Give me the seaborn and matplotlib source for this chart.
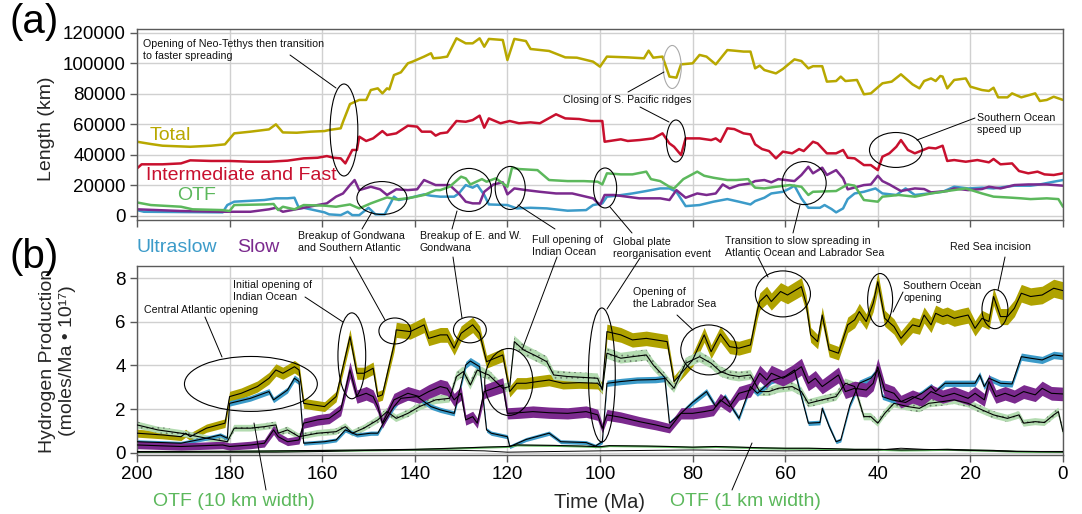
import numpy as np
import matplotlib.pyplot as plt
import seaborn as sns
from matplotlib.patches import Ellipse

# ---- panel (a): ridge length (km) as (time Ma, value) pairs ----
total_len = [(200, 48500), (197, 47000), (194.5, 45900), (188.5, 45200), (184, 45900), (181, 46800),
             (179, 54000), (175.5, 55100), (171.5, 56600), (170, 59900), (168.5, 54600), (165.5, 54400),
             (162.5, 55100), (159.5, 55500), (158.5, 56200), (156, 57300), (155.5, 61600), (154, 73200),
             (152, 75900), (150.5, 75900), (149.5, 82400), (148, 83500), (147, 80200), (146, 83500),
             (145.5, 82800), (144.5, 92200), (143, 94000), (141.5, 99900), (140.5, 101000), (138, 104300),
             (136.5, 106500), (136, 103200), (134.5, 103600), (133, 104300), (131, 116300), (129, 113000),
             (127.5, 113000), (126, 116300), (125, 110800), (124, 115900), (121, 115200), (120, 102100),
             (118.5, 115900), (116, 114500), (115, 109300), (111, 108000), (107.5, 103800), (105, 103600),
             (101.5, 101000), (100, 97700), (98.5, 104300), (94, 103800), (90.5, 103200), (89.5, 108200),
             (88.5, 103600), (86.5, 104300), (85, 91200), (83.5, 90500), (82.5, 99200), (80, 99900),
             (78.5, 105400), (77, 104300), (75, 99200), (72.5, 108600), (71, 108200), (69, 107600),
             (67.5, 107600), (66.5, 96600), (65.5, 98400), (64.5, 95500), (62, 93300), (60.5, 96200),
             (58, 102500), (56.5, 101400), (55, 96600), (54, 98000), (52, 98000), (51, 87900), (49, 88300),
             (48, 91200), (47, 88300), (44.5, 89000), (43, 79600), (41.5, 80200), (39, 86800), (37, 87900),
             (35, 92700), (32.5, 86100), (31, 83500), (30, 88300), (28.5, 90000), (27.5, 88300),
             (26.5, 91600), (26, 91200), (25, 83500), (23.5, 89000), (21, 90000), (20, 84600),
             (17.5, 82400), (16, 81800), (15, 83900), (14, 77600), (12, 77600), (11, 80200), (9, 77600),
             (6, 80200), (5, 75200), (3.5, 75900), (2, 78000), (0, 75900)]
fast_len = [(200, 31000), (199, 33700), (194.5, 33700), (190.5, 34300), (188.5, 36300), (184, 35900),
            (180, 35900), (175.5, 35400), (171.5, 35400), (167.5, 36100), (164, 37600), (161, 38000),
            (159, 39100), (157.5, 38000), (156, 37600), (155, 34300), (153.5, 43100), (152.5, 43100),
            (152, 51800), (150.5, 49000), (149, 50700), (147, 55500), (146, 52900), (144, 54000),
            (141.5, 59000), (139.5, 58400), (138.5, 55100), (136.5, 55100), (135.5, 52500), (134.5, 54000),
            (133, 54600), (131, 62100), (129, 61600), (127.5, 62700), (126, 65600), (125, 57700),
            (124, 63800), (121.5, 60600), (119.5, 62100), (117.5, 60600), (115, 61200), (113, 60600),
            (109.5, 66500), (107.5, 63800), (104.5, 63400), (102, 62100), (99.5, 62100), (99, 48500),
            (95.5, 50100), (94, 49000), (91.5, 49600), (88.5, 50700), (86.5, 54000), (85, 47400),
            (84, 45200), (82.5, 39800), (81.5, 50700), (78.5, 50700), (76, 49600), (75, 50700),
            (74, 48500), (72.5, 57300), (71, 56800), (69, 54000), (67.5, 53300), (66.5, 46800),
            (65, 43700), (63.5, 42400), (62, 37600), (60.5, 42000), (58.5, 40900), (57, 43700),
            (56, 42400), (54, 48500), (53, 47400), (51, 40900), (49, 40900), (47.5, 43100), (46.5, 38000),
            (45, 37600), (43, 33200), (41.5, 33200), (40, 29900), (39, 38700), (37.5, 40900), (36, 45200),
            (35, 49600), (33.5, 43100), (32, 40900), (29, 44600), (27.5, 44100), (26, 45900), (25, 35900),
            (23.5, 36500), (21, 35400), (18.5, 36500), (16, 35000), (15, 37200), (13.5, 33700),
            (11, 34300), (9.5, 29300), (7.5, 27800), (5.5, 28900), (4, 27100), (2, 26700), (0, 27800)]
otf_len = [(200, 8700), (197, 7000), (190.5, 5900), (188, 4200), (181.5, 3700), (180, 3100), (179, 7000),
           (172.5, 7400), (170.5, 7700), (169.5, 3700), (168.5, 5900), (166, 4200), (164, 7000),
           (159.5, 6600), (157, 5900), (154, 7400), (152, 4800), (149.5, 8100), (146, 12000), (144, 10700),
           (141.5, 11400), (138, 13600), (135.5, 16800), (134.5, 16800), (132.5, 19000), (130, 25600),
           (129, 24500), (128, 20500), (125.5, 24000), (124.5, 22300), (122.5, 24500), (120, 19000),
           (119, 31500), (117.5, 30600), (113.5, 29900), (111, 23400), (107, 22700), (103.5, 22700),
           (100.5, 22300), (99.5, 20500), (98.5, 27800), (95.5, 27100), (93, 27100), (90, 28900),
           (89, 24000), (87, 22700), (85, 19000), (84, 17900), (82, 24000), (79, 28900), (77.5, 26200),
           (75.5, 24900), (72.5, 23400), (70.5, 23400), (68, 24000), (67, 20000), (66.5, 18400),
           (64.5, 17900), (62, 19000), (59, 20100), (56.5, 19000), (55, 13600), (54, 15700), (49, 16200),
           (46.5, 20500), (45, 19700), (43, 10300), (40, 9200), (39, 12500), (35.5, 13600), (32, 12500),
           (28.5, 14600), (25, 16200), (21, 17900), (17.5, 14600), (15, 12500), (11, 11800), (9, 11400),
           (7, 10900), (3.5, 11400), (1, 10900), (0, 5900)]
slow_len = [(200, 4200), (190.5, 3100), (181.5, 2600), (175.5, 2600), (171.5, 4200), (170, 5200),
            (168.5, 2600), (164, 5200), (161, 7000), (159, 8100), (157, 12500), (155.5, 14600),
            (154, 20100), (153, 23400), (152, 16800), (149.5, 19000), (147.5, 17300), (146, 13600),
            (144, 17300), (141.5, 16800), (139.5, 17300), (138, 23400), (135.5, 20100), (132.5, 20100),
            (130.5, 14600), (129, 9200), (127.5, 8100), (126, 8100), (125, 15700), (123, 20500),
            (121, 21900), (120, 14000), (118.5, 17900), (116, 16800), (113, 15700), (109.5, 14600),
            (106, 14600), (101.5, 11400), (100, 7000), (99, 13600), (97, 13600), (91.5, 11400),
            (87, 11400), (85, 10300), (83.5, 16800), (81.5, 11800), (79, 14600), (77, 13600), (75, 14600),
            (73.5, 20500), (72, 17900), (70, 20100), (67.5, 21200), (66.5, 22700), (64.5, 23400),
            (63, 21900), (61.5, 24000), (58, 22700), (56.5, 26700), (55, 32100), (54, 27800), (52, 31500),
            (51, 26700), (49, 29900), (47.5, 24500), (46.5, 17300), (43, 20100), (41.5, 20500),
            (40, 26200), (39, 22700), (37.5, 20500), (36, 17900), (35, 16200), (32, 17900), (30, 17500),
            (28.5, 15300), (25, 16200), (23.5, 17900), (20.5, 16800), (17.5, 17500), (16, 19000),
            (13.5, 17900), (10.5, 20100), (7.5, 20500), (3.5, 20500), (0, 19700)]
ultra_len = [(200, 3700), (198.5, 2600), (181.5, 2200), (180.5, 7000), (179, 9200), (172.5, 10300),
             (170, 11400), (167.5, 11400), (166, 11800), (165, 4800), (164, 5200), (159.5, 2200),
             (158.5, 900), (156, 400), (154.5, 2600), (153.5, 400), (152, 400), (150, 5200), (148.5, 900),
             (146.5, 900), (144.5, 12500), (143.5, 10300), (141.5, 11400), (138, 14000), (136.5, 13100),
             (134.5, 12500), (131.5, 12500), (130.5, 14600), (129, 20100), (127.5, 18400), (126.5, 20100),
             (125, 13600), (124, 7400), (120, 7000), (118, 4800), (115, 5200), (111.5, 4800), (107, 3300),
             (103, 3700), (101.5, 7000), (99.5, 8100), (98.5, 12500), (96.5, 13100), (93, 14600),
             (90, 16200), (87, 17900), (85, 17900), (83.5, 15700), (81.5, 6300), (78.5, 7000),
             (75.5, 9200), (72.5, 10900), (70, 9200), (67.5, 7400), (66.5, 9600), (64.5, 11800),
             (63, 14600), (60.5, 15700), (59, 17900), (58, 19700), (56.5, 11400), (55, 5200),
             (52.5, 5200), (51.5, 7000), (50, 4400), (49, 2200), (47.5, 4800), (46.5, 10900), (45, 14600),
             (43, 15700), (40.5, 17900), (39, 14600), (36, 13600), (34, 17900), (32, 13600), (29, 14600),
             (26, 15700), (23.5, 19000), (20.5, 17900), (17.5, 18400), (15, 17900), (10.5, 19700),
             (7, 19700), (5, 20500), (2, 22300), (0, 23400)]

# ---- panel (b): hydrogen production (moles/Ma x 1e17) ----
total_h2 = [(200, 0.89), (194.5, 0.81), (190.5, 0.73), (189.5, 0.89), (188.5, 0.73), (185, 1.12), (181, 1.35),
            (180, 2.57), (177.5, 2.72), (174, 3.03), (171.5, 3.41), (170, 3.79), (168.5, 3.64), (166, 3.94),
            (165, 3.79), (164, 2.26), (162, 2.19), (159.5, 2.11), (157, 2.57), (154, 5.32), (152.5, 3.64),
            (151, 3.64), (149, 3.87), (148, 2.57), (147, 2.65), (144.5, 4.94), (144, 5.63), (141, 5.55),
            (138, 5.86), (137, 5.24), (134.5, 5.40), (133, 5.40), (131.5, 4.79), (130, 5.47), (129, 5.63),
            (127.5, 5.86), (126, 5.47), (124.5, 4.17), (121, 4.48), (119.5, 2.80), (118, 3.18), (116, 3.18),
            (113.5, 3.26), (111, 3.33), (108, 3.18), (104.5, 3.21), (100.5, 3.18), (99.5, 2.95), (98.5, 5.55),
            (95.5, 5.40), (93, 5.17), (90, 5.24), (85.5, 5.09), (84, 3.26), (81.5, 3.87), (80, 4.25),
            (77.5, 5.40), (76, 4.63), (74, 5.44), (72, 4.86), (70, 4.79), (67.5, 4.94), (66, 6.54),
            (65.5, 6.93), (64, 7.23), (63, 6.93), (61, 7.39), (59.5, 7.23), (56.5, 7.61), (55.5, 6.85),
            (54.5, 5.40), (53, 5.09), (52, 6.31), (50.5, 4.71), (48.5, 4.56), (46.5, 5.86), (45, 6.09),
            (44, 6.47), (42.5, 6.01), (41, 6.85), (40, 7.84), (38.5, 6.16), (36.5, 5.78), (35, 5.24),
            (32.5, 5.86), (31, 5.78), (30, 6.31), (28.5, 5.86), (27.5, 6.39), (26, 6.24), (25, 6.31),
            (23.5, 6.16), (22, 6.24), (20.5, 6.31), (19, 5.70), (17.5, 6.16), (16, 6.01), (15, 7.16),
            (13.5, 6.24), (12, 6.24), (10.5, 6.62), (9, 7.31), (7, 7.16), (4.5, 7.23), (2, 7.54), (0, 7.43)]
ultra_h2 = [(200, 0.50), (190.5, 0.43), (185, 0.66), (182, 0.81), (180.5, 0.66), (180, 2.26), (175.5, 2.49),
            (171.5, 2.80), (170.5, 2.42), (167.5, 2.87), (166, 3.41), (165, 3.26), (164, 0.43), (159.5, 0.50),
            (157, 0.58), (155, 1.04), (152.5, 0.81), (149.5, 0.89), (148, 0.89), (147, 1.27), (144.5, 2.11),
            (143, 2.49), (139.5, 2.57), (136.5, 2.11), (134.5, 1.96), (131.5, 1.80), (129, 4.02), (128, 4.2),
            (126, 3.94), (124.5, 1.04), (123.5, 0.89), (120, 0.73), (119.5, 0.27), (116, 0.6), (111, 0.89),
            (108.5, 0.5), (103, 0.46), (101, 0.3), (99.5, 0.5), (98.5, 3.18), (95.5, 3.26), (92, 3.33),
            (88, 3.35), (86, 3.4), (85, 1.35), (82.5, 1.8), (80, 2.3), (77, 2.80), (75, 2.11), (73, 2.57),
            (70, 1.57), (67.5, 3.03), (66, 2.72), (63, 3.3), (60, 3.5), (58, 3.79), (55, 1.35), (52.5, 1.38),
            (52, 2.03), (50.5, 1.2), (49, 0.50), (48, 0.58), (46, 2.2), (44, 3.18), (41.5, 3.41), (40, 3.79),
            (39, 2.57), (37, 2.42), (34, 2.3), (30.5, 2.72), (28.5, 3.03), (27.5, 2.8), (25.5, 3.18),
            (22, 3.18), (19, 3.18), (18, 3.56), (17, 3.03), (16, 3.41), (13.5, 3.18), (11, 3.15), (9, 4.40),
            (7, 4.33), (4.5, 4.25), (2, 4.48), (0, 4.43)]
slow_h2 = [(200, 0.35), (190.5, 0.28), (181.5, 0.35), (180, 0.28), (175.5, 0.35), (172.5, 0.43), (170.5, 1.04),
           (169.5, 0.73), (167.5, 0.50), (165, 0.58), (164, 1.35), (161, 1.50), (158.5, 1.57), (156, 1.96),
           (154, 3.79), (152.5, 2.57), (150.5, 2.72), (149, 2.57), (148, 2.11), (147, 1.35), (144.5, 2.42),
           (141.5, 2.72), (139, 2.57), (137, 2.80), (134.5, 3.03), (133, 2.95), (131.5, 2.42), (130, 2.72),
           (129, 1.50), (127.5, 1.65), (126.5, 1.35), (125, 2.80), (123, 2.95), (121, 3.10), (120, 1.80),
           (117.5, 1.83), (114.5, 1.88), (111, 1.83), (107, 1.80), (103, 1.88), (100.5, 1.73), (99.5, 1.12),
           (98.5, 1.73), (95.5, 1.62), (91.5, 1.42), (88, 1.27), (85, 1.12), (82.5, 1.80), (80, 1.80),
           (77.5, 1.88), (75.5, 1.96), (74, 2.42), (72, 2.11), (70, 2.72), (67.5, 2.87), (65.5, 3.64),
           (64, 3.33), (63, 3.64), (60.5, 3.41), (58.5, 3.64), (56.5, 3.94), (55, 3.18), (53.5, 3.41),
           (52, 3.03), (50, 3.33), (48.5, 3.56), (47, 2.80), (45, 2.95), (42.5, 2.87), (41, 3.18), (40, 3.94),
           (38.5, 2.87), (36.5, 2.72), (35, 2.34), (32.5, 2.57), (30.5, 2.42), (28.5, 2.80), (26, 2.57),
           (23.5, 2.72), (20.5, 2.49), (19, 2.72), (17, 2.42), (16, 3.26), (14.5, 2.57), (12.5, 2.72),
           (10.5, 2.57), (8.5, 2.80), (6, 2.65), (4.5, 2.95), (2.5, 2.72), (0, 2.69)]
otf10_h2 = [(200, 1.27), (195.5, 1.04), (190.5, 0.89), (185, 0.66), (180.5, 0.50), (179, 1.12), (175.5, 1.12),
            (172.5, 1.19), (170, 1.27), (169.5, 0.89), (167.5, 1.04), (165, 0.73), (161, 0.89), (157, 0.96),
            (155, 1.19), (153.5, 0.89), (151, 1.12), (148, 1.50), (146, 1.88), (144, 1.57), (141.5, 1.80),
            (139, 2.11), (135.5, 2.42), (132.5, 2.49), (132, 2.80), (131, 3.49), (129.5, 3.72), (128, 3.10),
            (126.5, 3.79), (125, 3.64), (124, 3.56), (121, 2.95), (119.5, 3.03), (118.5, 5.09), (116.5, 4.71),
            (113.5, 4.40), (111.5, 4.17), (110, 3.56), (107, 3.49), (104.5, 3.46), (100.5, 3.41), (99.5, 2.87),
            (98.5, 4.56), (95.5, 4.33), (93, 4.40), (90, 4.48), (88.5, 4.02), (86.5, 3.56), (84, 2.95),
            (81.5, 4.10), (78.5, 4.40), (76, 4.10), (74, 3.72), (72, 3.56), (70, 3.49), (67.5, 3.56),
            (65.5, 2.80), (63.5, 2.80), (61.5, 2.95), (58.5, 3.03), (56.5, 2.80), (55, 2.26), (52, 2.42),
            (49, 2.57), (47, 3.18), (45, 3.03), (43, 1.65), (41.5, 1.65), (40, 1.35), (38.5, 1.80),
            (36.5, 2.26), (33.5, 2.11), (31, 2.03), (29, 2.26), (26, 2.34), (23.5, 2.42), (20.5, 2.26),
            (17.5, 1.96), (15, 1.73), (12, 1.57), (9.5, 1.73), (8.5, 1.35), (6, 1.42), (4, 1.38), (2, 1.73),
            (1, 1.88), (0, 0.96)]
otf1_h2 = [(200, 0.05), (180, 0.06), (170, 0.08), (160, 0.1), (150, 0.12), (140, 0.15), (132, 0.2), (125, 0.25),
           (120, 0.28), (118, 0.35), (110, 0.33), (104, 0.3), (100, 0.27), (98, 0.32), (90, 0.3), (85, 0.28),
           (80, 0.25), (75, 0.28), (70, 0.25), (65, 0.22), (60, 0.2), (55, 0.2), (50, 0.18), (45, 0.15),
           (40, 0.15), (35, 0.12), (30, 0.13), (25, 0.15), (20, 0.12), (15, 0.1), (10, 0.06), (5, 0.05), (0, 0.05)]
fast_h2 = [(200, 0.02), (170, 0.02), (160, 0.05), (150, 0.1), (140, 0.12), (130, 0.1), (125, 0.08), (120, 0.02),
           (110, 0.05), (100, 0.08), (90, 0.1), (80, 0.12), (70, 0.1), (60, 0.08), (50, 0.1), (40, 0.12),
           (35, 0.2), (30, 0.15), (20, 0.1), (10, 0.05), (0, 0.03)]

# band half-width = a + b * value
band_err = {'total': (0.15, 0.035), 'otf10': (0.12, 0.03), 'ultra': (0.08, 0.02),
            'slow': (0.15, 0.06), 'otf1': (0.045, 0.0)}

c_olive, c_red, c_green = '#B8A800', '#C8102E', '#5CB85C'
c_purple, c_blue = '#7B2A8E', '#3C9BC9'
c_olive_band, c_otf10_band = '#AFA200', '#B3DBB0'


def split(pairs):
    t, v = zip(*pairs)
    return np.array(t, dtype=float), np.array(v, dtype=float)


sns.set_style('whitegrid')
plt.rcParams['font.family'] = ['Liberation Sans', 'DejaVu Sans']
plt.rcParams['hatch.linewidth'] = 0.5

W, H = 1082, 514
fig = plt.figure(figsize=(W / 100, H / 100), dpi=100)
ax_a = fig.add_axes([137 / W, 1 - 220 / H, 926 / W, 191 / H])
ax_b = fig.add_axes([137 / W, 1 - 455 / H, 926 / W, 189 / H])

# panel (a) lines
for pairs, col in [(ultra_len, c_blue), (slow_len, c_purple), (otf_len, c_green),
                   (fast_len, c_red), (total_len, c_olive)]:
    t, v = split(pairs)
    sns.lineplot(x=t, y=v, ax=ax_a, color=col, linewidth=1.8, legend=False)

# panel (b) bands with black centre lines
for pairs, key, col, hatch in [(total_h2, 'total', c_olive_band, None),
                               (otf10_h2, 'otf10', c_otf10_band, '...'),
                               (ultra_h2, 'ultra', c_blue, None),
                               (slow_h2, 'slow', c_purple, None),
                               (otf1_h2, 'otf1', c_green, None)]:
    t, v = split(pairs)
    a, b = band_err[key]
    err = a + b * v
    if hatch:
        ax_b.fill_between(t, v - err, v + err, facecolor=col, edgecolor='#6a7a6a',
                          hatch=hatch, linewidth=0, zorder=2)
    else:
        ax_b.fill_between(t, v - err, v + err, color=col, linewidth=0, zorder=2)
    sns.lineplot(x=t, y=v, ax=ax_b, color='black', linewidth=0.8, legend=False, zorder=3)
t, v = split(fast_h2)
sns.lineplot(x=t, y=v, ax=ax_b, color='black', linewidth=0.7, legend=False, zorder=3)

for ax in (ax_a, ax_b):
    ax.set_xlim(200, 0)
    ax.set_xticks(range(0, 201, 20))
    ax.grid(True, color='#d0d0d0', linewidth=1.0)
    ax.set_axisbelow(True)
    for s in ax.spines.values():
        s.set_color('#5a5a5a')
        s.set_linewidth(1.0)
    ax.tick_params(bottom=True, left=True, direction='out', length=5, width=1,
                   color='#5a5a5a', labelsize=13.5, labelcolor='black', pad=3)
    ax.set_xlabel('')
    ax.set_ylabel('')

ax_a.set_ylim(-2800, 122400)
ax_a.set_yticks(range(0, 120001, 20000))
ax_a.set_yticklabels([str(v) for v in range(0, 120001, 20000)])
ax_a.set_xticklabels([])
ax_b.set_ylim(-0.11, 8.56)
ax_b.set_yticks([0, 2, 4, 6, 8])
ax_b.set_xlabel('Time (Ma)', fontsize=14.5, labelpad=7)
ax_a.set_ylabel('Length (km)', fontsize=14)
ax_a.yaxis.set_label_coords(-0.098, 0.48)
ax_a.yaxis.label.set_va('center')
ax_b.set_ylabel('Hydrogen Production\n(moles/Ma \u2022 10\u00b9\u2077)', fontsize=14, linespacing=1.25)
ax_b.yaxis.set_label_coords(-0.086, 0.5)
ax_b.yaxis.label.set_va('center')

# ellipses in data coordinates: (time, value, width Ma, height)
ell_a = [(155.3, 56200, 6.0, 60300, 'black'), (147.1, 11600, 10.8, 21600, 'black'),
         (128.3, 16900, 9.7, 28200, 'black'), (119.4, 18200, 6.5, 28200, 'black'),
         (98.9, 18200, 5.0, 26200, 'black'), (84.4, 97500, 3.9, 28200, '#aaaaaa'),
         (83.6, 49000, 4.1, 27500, 'black'), (36.1, 43100, 11.4, 22900, 'black'),
         (55.9, 21400, 9.5, 28200, 'black')]
ell_b = [(175.4, 3.15, 28.7, 2.52), (153.6, 4.44, 6.0, 3.94), (144.3, 5.58, 6.9, 1.19),
         (128.1, 5.63, 7.1, 1.19), (119.7, 3.24, 10.4, 3.07), (99.6, 3.56, 5.8, 6.15),
         (76.5, 4.71, 12.1, 2.29), (60.5, 7.28, 11.9, 2.11), (39.5, 7.0, 5.4, 2.43),
         (14.7, 6.58, 5.6, 1.79)]
for x, y, w, h, c in ell_a:
    ax_a.add_patch(Ellipse((x, y), w, h, fill=False, edgecolor=c, linewidth=0.8, zorder=5, clip_on=False))
for x, y, w, h in ell_b:
    ax_b.add_patch(Ellipse((x, y), w, h, fill=False, edgecolor='black', linewidth=0.8, zorder=5, clip_on=False))

# overlay in pixel coordinates for labels and leader lines
ov = fig.add_axes([0, 0, 1, 1], zorder=10)
ov.set_xlim(0, W)
ov.set_ylim(H, 0)
ov.axis('off')
ov.patch.set_alpha(0)

leaders = [((290, 55), (336, 88)), ((362, 229), (372, 212)), ((452, 229), (457, 211)),
           ((555, 229), (518, 205)), ((632, 233), (610, 207)), ((628, 92), (664, 72)),
           ((640, 107), (669, 122)), ((975, 118), (917, 140)), ((793, 233), (800, 205)),
           ((205, 317), (222, 357)), ((305, 297), (343, 322)), ((350, 257), (385, 320)),
           ((453, 257), (462, 318)), ((557, 257), (522, 350)), ((640, 258), (607, 309)),
           ((677, 315), (693, 330)), ((758, 257), (768, 277)), ((903, 292), (893, 312)),
           ((1005, 257), (998, 290)), ((266, 490), (254, 423)), ((732, 490), (752, 443))]
for (x1, y1), (x2, y2) in leaders:
    ov.plot([x1, x2], [y1, y2], color='black', linewidth=0.7)

notes = [(143, 50, 'Opening of Neo-Tethys then transition\nto faster spreading'),
         (563, 100, 'Closing of S. Pacific ridges'),
         (977, 124, 'Southern Ocean\nspeed up'),
         (298, 242, 'Breakup of Gondwana\nand Southern Atlantic'),
         (420, 242, 'Breakup of E. and W.\nGondwana'),
         (532, 246, 'Full opening of\nIndian Ocean'),
         (613, 248, 'Global plate\nreorganisation event'),
         (725, 247, 'Transition to slow spreading in\nAtlantic Ocean and Labrador Sea'),
         (950, 247, 'Red Sea incision'),
         (144, 310, 'Central Atlantic opening'),
         (233, 291, 'Initial opening of\nIndian Ocean'),
         (633, 298, 'Opening of\nthe Labrador Sea'),
         (903, 292, 'Southern Ocean\nopening')]
for x, y, s in notes:
    ov.text(x, y, s, fontsize=7.7, ha='left', va='center', color='#111111')

big = [(10, 22, '(a)', 'black', 29), (10, 257, '(b)', 'black', 29),
       (150, 135, 'Total', c_olive, 14), (146, 176, 'Intermediate and Fast', c_red, 14),
       (177, 196, 'OTF', c_green, 14), (136, 247, 'Ultraslow', c_blue, 14),
       (237, 247, 'Slow', c_purple, 14), (153, 501, 'OTF (10 km width)', c_green, 14),
       (670, 501, 'OTF (1 km width)', c_green, 14)]
for x, y, s, c, fs in big:
    ov.text(x, y, s, fontsize=fs, ha='left', va='center', color=c)

fig.savefig('out.png', dpi=100)
